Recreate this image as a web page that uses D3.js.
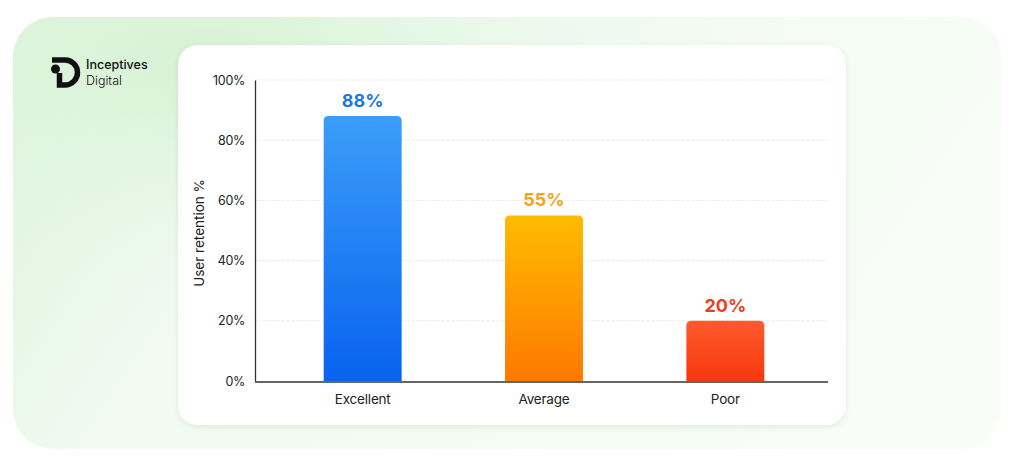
<!DOCTYPE html>
<html>
<head>
<meta charset="utf-8">
<script src="https://cdn.jsdelivr.net/npm/d3@7"></script>
<style>
  html, body { margin: 0; padding: 0; background: #fff; }
  svg { display: block; font-family: Inter, Roboto, "Noto Sans", sans-serif; }
</style>
</head>
<body>
<div id="chart"></div>
<script>
// chart data
var categories = ["Excellent", "Average", "Poor"];
var retention = [88, 55, 20];
var yTicks = [0, 20, 40, 60, 80, 100];
var barTop = ["#3b9df8", "#ffbc00", "#ff5a2c"];
var barBottom = ["#0963f0", "#ff7800", "#f5380f"];
var labelColors = ["#1a78e2", "#f5a31a", "#ea3f1d"];

var W = 1024, H = 474;
var svg = d3.select("#chart").append("svg")
    .attr("width", W)
    .attr("height", H);

var defs = svg.append("defs");

// green backdrop
var bg = defs.append("linearGradient").attr("id", "bgGrad")
    .attr("x1", "0").attr("y1", "0").attr("x2", "1").attr("y2", "0.3");
bg.append("stop").attr("offset", "0").attr("stop-color", "#d9f3d8");
bg.append("stop").attr("offset", "0.35").attr("stop-color", "#f1fbf0");
bg.append("stop").attr("offset", "0.8").attr("stop-color", "#f4fcf3");
bg.append("stop").attr("offset", "1").attr("stop-color", "#f8fdf7");

var glow = defs.append("radialGradient").attr("id", "glow")
    .attr("cx", "0.2").attr("cy", "0.1").attr("r", "0.6");
glow.append("stop").attr("offset", "0").attr("stop-color", "#d4f1d2").attr("stop-opacity", 0.9);
glow.append("stop").attr("offset", "1").attr("stop-color", "#eefaee").attr("stop-opacity", 0);

var shadow = defs.append("filter").attr("id", "shadow")
    .attr("x", "-5%").attr("y", "-5%").attr("width", "110%").attr("height", "115%");
shadow.append("feDropShadow").attr("dx", 0).attr("dy", 2).attr("stdDeviation", 3)
    .attr("flood-color", "#000").attr("flood-opacity", 0.08);

svg.append("rect")
    .attr("x", 13).attr("y", 17).attr("width", 988).attr("height", 432)
    .attr("rx", 40).attr("fill", "url(#bgGrad)");
svg.append("rect")
    .attr("x", 13).attr("y", 17).attr("width", 988).attr("height", 432)
    .attr("rx", 40).attr("fill", "url(#glow)");

// logo
var logo = svg.append("g").attr("fill", "#111").attr("stroke", "#111");
logo.append("path")
    .attr("d", "M52,60 H65 A12.5,12.5 0 0 1 65,85 H59.5 V73")
    .attr("fill", "none").attr("stroke-width", 5.5);
logo.append("circle").attr("cx", 55.5).attr("cy", 69).attr("r", 4.5).attr("stroke", "none");
svg.append("text").attr("x", 86).attr("y", 69)
    .attr("font-size", 12.5).attr("font-weight", 500).attr("fill", "#111")
    .text("Inceptives");
svg.append("text").attr("x", 86).attr("y", 84.5)
    .attr("font-size", 12.5).attr("font-weight", 300).attr("fill", "#111")
    .text("Digital");

// white card
svg.append("rect")
    .attr("x", 178).attr("y", 45).attr("width", 668).attr("height", 380)
    .attr("rx", 20).attr("fill", "#fff").attr("filter", "url(#shadow)");

// scales
var x = d3.scaleBand()
    .domain(categories)
    .range([272, 816])
    .paddingInner(0.57)
    .paddingOuter(0.285);

var y = d3.scaleLinear()
    .domain([0, 100])
    .range([381, 80]);

// gridlines
svg.append("g")
    .selectAll("line")
    .data(yTicks.slice(1))
    .enter()
    .append("line")
    .attr("x1", 256).attr("x2", 828)
    .attr("y1", d => y(d)).attr("y2", d => y(d))
    .attr("stroke", "#efefef")
    .attr("stroke-dasharray", "4,1");

// y axis
var yAxis = svg.append("g")
    .attr("transform", "translate(255,0)")
    .call(d3.axisLeft(y).tickValues(yTicks).tickSize(0).tickPadding(10).tickFormat(d => d + "%"));
yAxis.select(".domain").attr("stroke", "#333").attr("stroke-width", 1.3);
yAxis.selectAll("text").attr("font-size", 12.5).attr("fill", "#222")
    .attr("font-family", "Inter, Roboto, sans-serif").attr("letter-spacing", -0.3);

// x axis
var xAxis = svg.append("g")
    .attr("transform", "translate(0,382)")
    .call(d3.axisBottom(x).tickSize(0).tickPadding(12));
xAxis.select(".domain").attr("d", "M255,0H828").attr("stroke", "#333").attr("stroke-width", 1.3);
xAxis.selectAll("text").attr("font-size", 13.5).attr("fill", "#222")
    .attr("font-family", "Inter, Roboto, sans-serif").attr("letter-spacing", -0.2);

// y label
svg.append("text")
    .attr("transform", "translate(204,233) rotate(-90)")
    .attr("text-anchor", "middle")
    .attr("font-size", 13.5).attr("fill", "#222")
    .text("User retention %");

// bar gradients
categories.forEach(function (c, i) {
    var g = defs.append("linearGradient").attr("id", "bar" + i)
        .attr("x1", "0").attr("y1", "0").attr("x2", "0").attr("y2", "1");
    g.append("stop").attr("offset", "0").attr("stop-color", barTop[i]);
    g.append("stop").attr("offset", "1").attr("stop-color", barBottom[i]);
});

function topRounded(x0, y0, w, h, r) {
    return "M" + x0 + "," + (y0 + h) +
        "V" + (y0 + r) +
        "Q" + x0 + "," + y0 + " " + (x0 + r) + "," + y0 +
        "H" + (x0 + w - r) +
        "Q" + (x0 + w) + "," + y0 + " " + (x0 + w) + "," + (y0 + r) +
        "V" + (y0 + h) + "Z";
}

var data = categories.map((c, i) => ({ cat: c, val: retention[i], i: i }));

svg.append("g")
    .selectAll("path")
    .data(data)
    .enter()
    .append("path")
    .attr("d", d => topRounded(x(d.cat), y(d.val), x.bandwidth(), y(0) - y(d.val), 5))
    .attr("fill", d => "url(#bar" + d.i + ")");

svg.append("g")
    .selectAll("text")
    .data(data)
    .enter()
    .append("text")
    .attr("x", d => x(d.cat) + x.bandwidth() / 2)
    .attr("y", d => y(d.val) - 9)
    .attr("text-anchor", "middle")
    .attr("font-size", 18).attr("font-weight", 700)
    .attr("fill", d => labelColors[d.i])
    .text(d => d.val + "%");
</script>
</body>
</html>
